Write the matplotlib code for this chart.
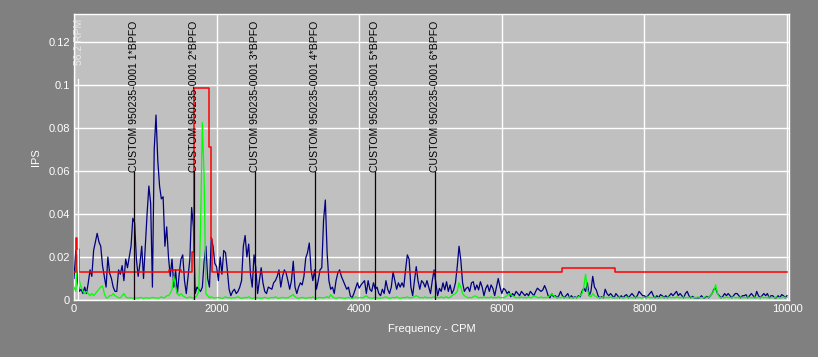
import numpy as np
import matplotlib
matplotlib.use("Agg")
import matplotlib.pyplot as plt

plt.rcParams['font.family'] = ['Liberation Sans', 'DejaVu Sans']

# spectrum: one value every 25 CPM, 0..10000
line_step = 25

blue_ips = [
    # 0 - 975
    0.010, 0.023, 0.009, 0.004, 0.005, 0.003, 0.006, 0.003, 0.008, 0.014,
    0.011, 0.023, 0.027, 0.031, 0.027, 0.025, 0.016, 0.011, 0.006, 0.020,
    0.0125, 0.010, 0.006, 0.004, 0.004, 0.014, 0.012, 0.016, 0.009, 0.019,
    0.015, 0.020, 0.025, 0.038, 0.036, 0.019, 0.011, 0.017, 0.025, 0.010,
    # 1000 - 1975
    0.025, 0.040, 0.053, 0.045, 0.006, 0.070, 0.086, 0.065, 0.053, 0.047,
    0.048, 0.025, 0.034, 0.020, 0.011, 0.019, 0.006, 0.014, 0.003, 0.012,
    0.019, 0.021, 0.009, 0.003, 0.011, 0.019, 0.043, 0.034, 0.003, 0.006,
    0.005, 0.004, 0.006, 0.018, 0.025, 0.010, 0.006, 0.029, 0.025, 0.017,
    # 2000 - 2975
    0.0155, 0.009, 0.020, 0.012, 0.023, 0.022, 0.014, 0.005, 0.002, 0.004,
    0.005, 0.003, 0.004, 0.006, 0.009, 0.025, 0.030, 0.020, 0.026, 0.012,
    0.006, 0.021, 0.015, 0.003, 0.009, 0.015, 0.008, 0.004, 0.003, 0.006,
    0.0055, 0.005, 0.008, 0.009, 0.011, 0.014, 0.006, 0.011, 0.014, 0.0125,
    # 3000 - 3975
    0.009, 0.005, 0.009, 0.018, 0.006, 0.003, 0.006, 0.008, 0.007, 0.011,
    0.0195, 0.022, 0.0265, 0.014, 0.009, 0.014, 0.005, 0.009, 0.014, 0.015,
    0.037, 0.0465, 0.022, 0.009, 0.005, 0.006, 0.003, 0.009, 0.0125, 0.014,
    0.011, 0.009, 0.007, 0.005, 0.006, 0.002, 0.001, 0.003, 0.0055, 0.008,
    # 4000 - 4975
    0.0055, 0.007, 0.008, 0.009, 0.003, 0.009, 0.005, 0.004, 0.008, 0.005,
    0.006, 0.003, 0.002, 0.005, 0.003, 0.009, 0.005, 0.003, 0.006, 0.013,
    0.009, 0.005, 0.008, 0.006, 0.008, 0.006, 0.014, 0.021, 0.019, 0.006,
    0.002, 0.009, 0.0155, 0.009, 0.005, 0.009, 0.008, 0.006, 0.009, 0.006,
    # 5000 - 5975
    0.003, 0.009, 0.014, 0.008, 0.002, 0.0054, 0.004, 0.008, 0.0047, 0.0085,
    0.004, 0.007, 0.003, 0.0047, 0.008, 0.0155, 0.025, 0.0186, 0.008, 0.004,
    0.0054, 0.006, 0.004, 0.008, 0.0085, 0.0047, 0.007, 0.0047, 0.0085, 0.006,
    0.002, 0.0054, 0.007, 0.004, 0.007, 0.0054, 0.002, 0.006, 0.010, 0.006,
    # 6000 - 6975
    0.003, 0.0054, 0.0047, 0.003, 0.004, 0.0015, 0.003, 0.002, 0.004, 0.003,
    0.002, 0.004, 0.003, 0.002, 0.003, 0.002, 0.004, 0.003, 0.002, 0.004,
    0.0055, 0.0047, 0.004, 0.0047, 0.0067, 0.0047, 0.002, 0.001, 0.003, 0.0015,
    0.002, 0.001, 0.002, 0.004, 0.002, 0.001, 0.002, 0.003, 0.001, 0.002,
    # 7000 - 7975
    0.001, 0.0015, 0.001, 0.002, 0.0015, 0.004, 0.0055, 0.004, 0.0079, 0.002,
    0.004, 0.011, 0.006, 0.0047, 0.002, 0.001, 0.0015, 0.001, 0.005, 0.003,
    0.002, 0.003, 0.002, 0.001, 0.003, 0.002, 0.001, 0.002, 0.001, 0.002,
    0.0025, 0.001, 0.002, 0.003, 0.002, 0.001, 0.002, 0.004, 0.003, 0.002,
    # 8000 - 8975
    0.002, 0.001, 0.002, 0.003, 0.004, 0.002, 0.001, 0.002, 0.001, 0.0025,
    0.002, 0.001, 0.002, 0.001, 0.002, 0.003, 0.002, 0.003, 0.004, 0.002,
    0.003, 0.002, 0.001, 0.003, 0.004, 0.002, 0.001, 0.0017, 0.001, 0.001,
    0.001, 0.001, 0.002, 0.001, 0.001, 0.0017, 0.001, 0.002, 0.003, 0.005,
    # 9000 - 10000
    0.0055, 0.003, 0.002, 0.001, 0.0017, 0.003, 0.002, 0.003, 0.002, 0.001,
    0.002, 0.003, 0.003, 0.002, 0.001, 0.002, 0.002, 0.0025, 0.001, 0.002,
    0.003, 0.002, 0.001, 0.004, 0.002, 0.001, 0.002, 0.003, 0.002, 0.003,
    0.001, 0.002, 0.002, 0.001, 0.001, 0.002, 0.001, 0.0025, 0.002, 0.001,
    0.002,
]

green_ips = [
    # 0 - 975
    0.006, 0.004, 0.021, 0.009, 0.006, 0.004, 0.003, 0.004, 0.003, 0.002,
    0.003, 0.002, 0.003, 0.004, 0.005, 0.006, 0.0065, 0.003, 0.001, 0.001,
    0.002, 0.002, 0.003, 0.002, 0.0015, 0.001, 0.001, 0.002, 0.003, 0.0015,
    0.001, 0.001, 0.001, 0.0008, 0.001, 0.001, 0.0008, 0.0012, 0.001, 0.0008,
    # 1000 - 1975
    0.001, 0.001, 0.0008, 0.001, 0.0012, 0.001, 0.001, 0.0008, 0.001, 0.0015,
    0.001, 0.0012, 0.002, 0.002, 0.003, 0.005, 0.011, 0.006, 0.003, 0.002,
    0.003, 0.002, 0.0015, 0.001, 0.001, 0.0015, 0.001, 0.001, 0.0012, 0.002,
    0.004, 0.034, 0.0825, 0.057, 0.003, 0.002, 0.001, 0.0015, 0.001, 0.001,
    # 2000 - 2975
    0.001, 0.0012, 0.001, 0.0008, 0.001, 0.0015, 0.001, 0.0012, 0.0008, 0.001,
    0.001, 0.0012, 0.0015, 0.001, 0.0008, 0.001, 0.0012, 0.001, 0.0015, 0.001,
    0.0008, 0.001, 0.0012, 0.001, 0.001, 0.0008, 0.001, 0.0012, 0.001, 0.0008,
    0.001, 0.0012, 0.001, 0.0015, 0.001, 0.0008, 0.001, 0.0012, 0.001, 0.001,
    # 3000 - 3975
    0.001, 0.0015, 0.002, 0.0025, 0.0015, 0.001, 0.0008, 0.001, 0.0012, 0.001,
    0.0008, 0.001, 0.0012, 0.001, 0.0015, 0.001, 0.0008, 0.001, 0.0012, 0.001,
    0.001, 0.0012, 0.0015, 0.001, 0.0025, 0.0015, 0.001, 0.0008, 0.001, 0.0012,
    0.001, 0.001, 0.0008, 0.001, 0.0012, 0.001, 0.0008, 0.001, 0.0015, 0.001,
    # 4000 - 4975
    0.001, 0.0012, 0.001, 0.0015, 0.002, 0.0012, 0.001, 0.0008, 0.001, 0.0012,
    0.001, 0.0008, 0.001, 0.001, 0.0012, 0.0015, 0.001, 0.0008, 0.001, 0.0012,
    0.001, 0.0015, 0.001, 0.0008, 0.001, 0.0012, 0.001, 0.0015, 0.001, 0.001,
    0.0012, 0.0015, 0.002, 0.0015, 0.001, 0.0012, 0.001, 0.0015, 0.001, 0.0012,
    # 5000 - 5975
    0.001, 0.0012, 0.0015, 0.001, 0.0012, 0.001, 0.0015, 0.001, 0.0012, 0.0015,
    0.001, 0.0012, 0.002, 0.0025, 0.003, 0.004, 0.008, 0.006, 0.003, 0.002,
    0.0015, 0.001, 0.0012, 0.001, 0.0015, 0.002, 0.0015, 0.001, 0.0012, 0.001,
    0.0015, 0.001, 0.0012, 0.001, 0.0015, 0.001, 0.0012, 0.001, 0.0015, 0.001,
    # 6000 - 6975
    0.0012, 0.001, 0.0015, 0.002, 0.003, 0.0025, 0.002, 0.0015, 0.001, 0.0012,
    0.001, 0.0015, 0.001, 0.0012, 0.001, 0.0015, 0.001, 0.0012, 0.002, 0.0015,
    0.0012, 0.001, 0.0015, 0.001, 0.0012, 0.001, 0.0015, 0.002, 0.003, 0.002,
    0.0015, 0.001, 0.0012, 0.001, 0.0015, 0.001, 0.0012, 0.001, 0.0015, 0.001,
    # 7000 - 7975
    0.001, 0.0012, 0.001, 0.0015, 0.002, 0.003, 0.006, 0.012, 0.005, 0.002,
    0.0015, 0.003, 0.002, 0.0015, 0.001, 0.0012, 0.001, 0.0015, 0.001, 0.0012,
    0.001, 0.0015, 0.001, 0.0012, 0.001, 0.001, 0.0015, 0.001, 0.0012, 0.001,
    0.0015, 0.001, 0.0012, 0.001, 0.001, 0.0015, 0.001, 0.0012, 0.001, 0.001,
    # 8000 - 8975
    0.0012, 0.001, 0.0015, 0.001, 0.0012, 0.001, 0.0015, 0.001, 0.0012, 0.001,
    0.0015, 0.001, 0.0012, 0.001, 0.0015, 0.001, 0.0012, 0.001, 0.0015, 0.001,
    0.0012, 0.001, 0.0015, 0.001, 0.0012, 0.001, 0.0015, 0.001, 0.0012, 0.001,
    0.0015, 0.001, 0.0012, 0.001, 0.0015, 0.0012, 0.0012, 0.002, 0.003, 0.0045,
    # 9000 - 10000
    0.0071, 0.003, 0.0015, 0.001, 0.0012, 0.001, 0.0015, 0.001, 0.0012, 0.001,
    0.0015, 0.001, 0.0012, 0.001, 0.0015, 0.001, 0.0012, 0.001, 0.0015, 0.001,
    0.0012, 0.001, 0.0015, 0.001, 0.0012, 0.001, 0.0015, 0.001, 0.0012, 0.001,
    0.0015, 0.001, 0.0012, 0.001, 0.0015, 0.001, 0.0012, 0.001, 0.0015, 0.001,
    0.0012,
]

# alarm envelope (step edges in CPM and level of each step)
alarm_edges = [0, 25, 45, 65, 1335, 1500, 1660, 1690, 1898, 1915, 1930, 6840, 7590, 10000]
alarm_levels = [0.0128, 0.029, 0.0237, 0.0128, 0.0141, 0.0128, 0.0225, 0.0985,
                0.0713, 0.0282, 0.0128, 0.0148, 0.0128]

# fault frequency markers
bpfo_cpm = 844
bpfo_orders = [1, 2, 3, 4, 5, 6]
marker_top = 0.0595
rpm_cpm = 56.2
rpm_top = 0.103

xticks = [0, 2000, 4000, 6000, 8000, 10000]
xtick_labels = ['0', '2000', '4000', '6000', '8000', '10000']
yticks = [0, 0.02, 0.04, 0.06, 0.08, 0.1, 0.12]
ytick_labels = ['0', '0.02', '0.04', '0.06', '0.08', '0.1', '0.12']

fig = plt.figure(figsize=(8.18, 3.57), dpi=100, facecolor='#808080')
ax = fig.add_axes([74 / 818, 57 / 357, 715 / 818, 286 / 357])
ax.set_facecolor('#c0c0c0')

freq = np.arange(len(blue_ips)) * line_step
ax.plot(freq, blue_ips, color='#000080', lw=0.9, zorder=3)
ax.plot(freq, green_ips, color='#00ff00', lw=0.9, zorder=4)
ax.step(alarm_edges, alarm_levels + [alarm_levels[-1]], where='post',
        color='#ff0000', lw=1.1, zorder=5)

for n in bpfo_orders:
    x = n * bpfo_cpm
    ax.plot([x, x], [0, marker_top], color='#100008', lw=0.9, zorder=6)
    ax.text(x, marker_top, f'CUSTOM 950235-0001 {n}*BPFO', rotation=90,
            ha='center', va='bottom', fontsize=7.6, color='black', zorder=7)

ax.plot([rpm_cpm, rpm_cpm], [0, rpm_top], color='white', lw=0.9, zorder=6)
ax.text(rpm_cpm + 15, 0.1093, '56.2 RPM', rotation=90, ha='center', va='bottom',
        fontsize=7.5, color='#e8e8e8', zorder=7)

ax.set_xlim(0, 10028)
ax.set_ylim(0, 0.133)
ax.set_xticks(xticks)
ax.set_xticklabels(xtick_labels)
ax.set_yticks(yticks)
ax.set_yticklabels(ytick_labels)
ax.grid(True, color='white', lw=1)
ax.set_axisbelow(True)
ax.tick_params(length=0, colors='white', labelsize=8, pad=3)
for s in ax.spines.values():
    s.set_color('white')
    s.set_linewidth(1)

ax.set_xlabel('Frequency - CPM', color='white', fontsize=8, labelpad=7)
ax.set_ylabel('IPS', color='white', fontsize=8, labelpad=5)

fig.savefig('out.png', dpi=100, facecolor=fig.get_facecolor())
